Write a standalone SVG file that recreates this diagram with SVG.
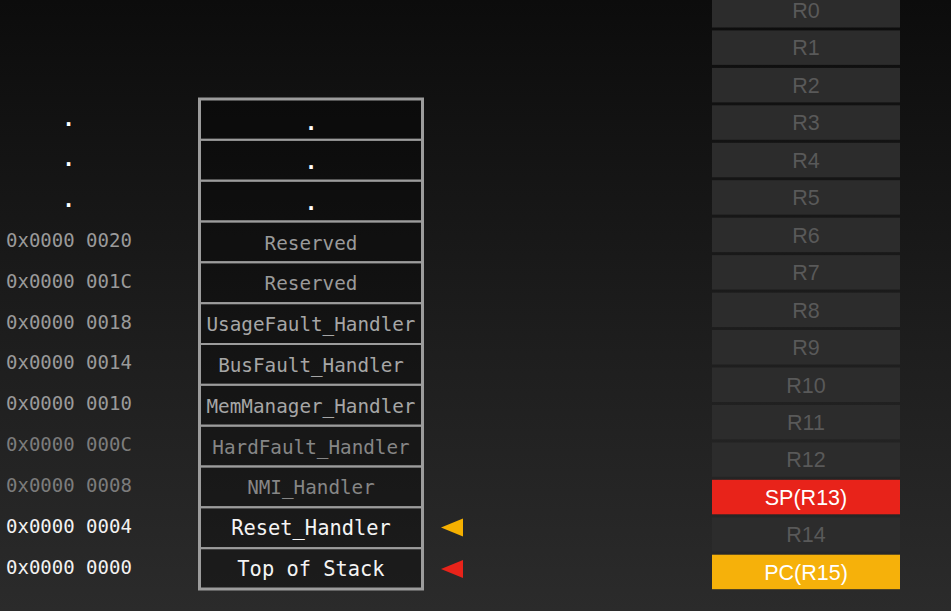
<svg xmlns="http://www.w3.org/2000/svg" width="951" height="611" viewBox="0 0 951 611">
<defs>
<linearGradient id="bg" x1="0" y1="0" x2="0" y2="1">
<stop offset="0" stop-color="#0c0c0c"/>
<stop offset="1" stop-color="#2b2b2b"/>
</linearGradient>
<style>
.addr{font-family:"DejaVu Sans Mono","Liberation Mono",monospace;font-size:19px;fill:#9a9a9a}
.dim{fill:#7c7c7c}
.hi{fill:#f2f2f2}
.cell{fill:#000;fill-opacity:0.32;stroke:#9c9c9c;stroke-width:2}
.ct{font-family:"DejaVu Sans Mono","Liberation Mono",monospace;font-size:19.3px;fill:#a6a6a6;text-anchor:middle}
.ct.res{fill:#9a9a9a}
.ct.dim{fill:#868686}
.ct.hi{fill:#f4f4f4;font-size:20.4px}
.dot{font-family:"DejaVu Sans Mono",monospace;font-size:21px;font-weight:bold;fill:#ffffff;text-anchor:middle}
.reg{fill:#2c2c2c}
.rt{font-family:"Liberation Sans",Arial,sans-serif;font-size:21.5px;fill:#595959;text-anchor:middle}
.rt.hi{fill:#ffffff}
</style>
</defs>
<rect width="951" height="611" fill="url(#bg)"/>

<g id="addresses">
<text class="dot" x="68.5" y="125.5">.</text>
<text class="dot" x="68.5" y="166">.</text>
<text class="dot" x="68.5" y="207">.</text>
<text class="addr" x="6" y="247">0x0000 0020</text>
<text class="addr" x="6" y="288">0x0000 001C</text>
<text class="addr" x="6" y="328.6">0x0000 0018</text>
<text class="addr" x="6" y="369.4">0x0000 0014</text>
<text class="addr" x="6" y="410.2">0x0000 0010</text>
<text class="addr dim" x="6" y="451.1">0x0000 000C</text>
<text class="addr dim" x="6" y="491.9">0x0000 0008</text>
<text class="addr hi" x="6" y="532.7">0x0000 0004</text>
<text class="addr hi" x="6" y="573.6">0x0000 0000</text>
</g>

<g id="vector-table">
<g id="row-dots1"><rect class="cell" x="200" y="99" width="222" height="40.8"/><text class="dot" x="311" y="129.5">.</text></g>
<g id="row-dots2"><rect class="cell" x="200" y="139.8" width="222" height="40.9"/><text class="dot" x="311" y="169">.</text></g>
<g id="row-dots3"><rect class="cell" x="200" y="180.7" width="222" height="40.8"/><text class="dot" x="311" y="210">.</text></g>
<g id="row-0020"><rect class="cell" x="200" y="221.5" width="222" height="40.8"/><text class="ct res" x="311" y="249.5">Reserved</text></g>
<g id="row-001C"><rect class="cell" x="200" y="262.3" width="222" height="40.9"/><text class="ct res" x="311" y="290.3">Reserved</text></g>
<g id="row-0018"><rect class="cell" x="200" y="303.2" width="222" height="40.8"/><text class="ct" x="311" y="331.1">UsageFault_Handler</text></g>
<g id="row-0014"><rect class="cell" x="200" y="344" width="222" height="40.8"/><text class="ct" x="311" y="371.9">BusFault_Handler</text></g>
<g id="row-0010"><rect class="cell" x="200" y="384.8" width="222" height="40.9"/><text class="ct" x="311" y="412.7">MemManager_Handler</text></g>
<g id="row-000C"><rect class="cell" x="200" y="425.7" width="222" height="40.8"/><text class="ct dim" x="311" y="453.6">HardFault_Handler</text></g>
<g id="row-0008"><rect class="cell" x="200" y="466.5" width="222" height="40.8"/><text class="ct dim" x="311" y="494.4">NMI_Handler</text></g>
<g id="row-0004"><rect class="cell" x="200" y="507.3" width="222" height="40.9"/><text class="ct hi" x="311" y="535.3">Reset_Handler</text></g>
<g id="row-0000"><rect class="cell" x="200" y="548.2" width="222" height="40.8"/><text class="ct hi" x="311" y="576.2">Top of Stack</text></g>
<rect x="199.5" y="99" width="223" height="490" fill="none" stroke="#9c9c9c" stroke-width="3"/>
</g>

<g id="connectors">
<polygon id="pc-pointer" points="441,527.5 463,518.5 463,536.5" fill="#f5b000"/>
<polygon id="sp-pointer" points="441,569 463,560 463,578" fill="#e8231a"/>
</g>

<g id="registers">
<g id="R0"><rect class="reg" x="712" y="-7" width="188" height="34.5"/><text class="rt" x="806" y="18">R0</text></g>
<g id="R1"><rect class="reg" x="712" y="30.4" width="188" height="34.5"/><text class="rt" x="806" y="55.4">R1</text></g>
<g id="R2"><rect class="reg" x="712" y="67.9" width="188" height="34.5"/><text class="rt" x="806" y="92.9">R2</text></g>
<g id="R3"><rect class="reg" x="712" y="105.3" width="188" height="34.5"/><text class="rt" x="806" y="130.3">R3</text></g>
<g id="R4"><rect class="reg" x="712" y="142.8" width="188" height="34.5"/><text class="rt" x="806" y="167.8">R4</text></g>
<g id="R5"><rect class="reg" x="712" y="180.2" width="188" height="34.5"/><text class="rt" x="806" y="205.2">R5</text></g>
<g id="R6"><rect class="reg" x="712" y="217.7" width="188" height="34.5"/><text class="rt" x="806" y="242.7">R6</text></g>
<g id="R7"><rect class="reg" x="712" y="255.1" width="188" height="34.5"/><text class="rt" x="806" y="280.1">R7</text></g>
<g id="R8"><rect class="reg" x="712" y="292.6" width="188" height="34.5"/><text class="rt" x="806" y="317.6">R8</text></g>
<g id="R9"><rect class="reg" x="712" y="330" width="188" height="34.5"/><text class="rt" x="806" y="355">R9</text></g>
<g id="R10"><rect class="reg" x="712" y="367.5" width="188" height="34.5"/><text class="rt" x="806" y="392.5">R10</text></g>
<g id="R11"><rect class="reg" x="712" y="404.9" width="188" height="34.5"/><text class="rt" x="806" y="429.9">R11</text></g>
<g id="R12"><rect class="reg" x="712" y="442.4" width="188" height="34.5"/><text class="rt" x="806" y="467.4">R12</text></g>
<g id="SP"><rect x="712" y="479.8" width="188" height="34.5" fill="#e8231a"/><text class="rt hi" x="806" y="504.8">SP(R13)</text></g>
<g id="R14"><rect class="reg" x="712" y="517.3" width="188" height="34.5"/><text class="rt" x="806" y="542.3">R14</text></g>
<g id="PC"><rect x="712" y="554.7" width="188" height="34.5" fill="#f6b10a"/><text class="rt hi" x="806" y="579.7">PC(R15)</text></g>
</g>
</svg>
